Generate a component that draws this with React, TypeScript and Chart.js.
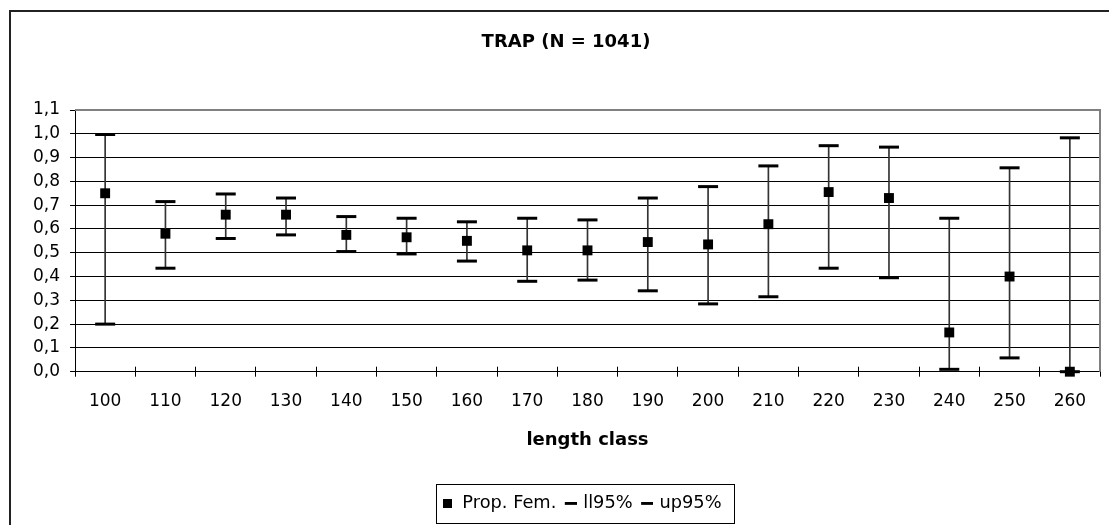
import React, { useEffect, useRef } from 'react';
import { Chart, registerables } from 'chart.js';

Chart.register(...registerables);

const categories = ['100', '110', '120', '130', '140', '150', '160', '170', '180', '190', '200', '210', '220', '230', '240', '250', '260'];
const propFem = [0.75, 0.58, 0.66, 0.66, 0.575, 0.565, 0.55, 0.51, 0.51, 0.545, 0.535, 0.62, 0.755, 0.73, 0.165, 0.4, 0.0];
const ll95 = [0.2, 0.435, 0.56, 0.575, 0.505, 0.495, 0.465, 0.38, 0.385, 0.34, 0.285, 0.315, 0.435, 0.395, 0.01, 0.058, 0.0];
const up95 = [0.997, 0.715, 0.747, 0.73, 0.652, 0.645, 0.63, 0.645, 0.638, 0.73, 0.778, 0.865, 0.95, 0.944, 0.645, 0.857, 0.983];
const yTickLabels = ['0,0', '0,1', '0,2', '0,3', '0,4', '0,5', '0,6', '0,7', '0,8', '0,9', '1,0', '1,1'];
const chartTitle = 'TRAP (N = 1041)';
const xAxisTitle = 'length class';
const seriesNames = ['Prop. Fem.', 'll95%', 'up95%'];

function makeSquare(): HTMLCanvasElement {
  const c = document.createElement('canvas');
  c.width = 9;
  c.height = 9;
  const g = c.getContext('2d')!;
  g.fillStyle = '#000';
  g.fillRect(0, 0, 9, 9);
  return c;
}

function makeDash(): HTMLCanvasElement {
  const c = document.createElement('canvas');
  c.width = 17;
  c.height = 4;
  const g = c.getContext('2d')!;
  g.fillStyle = '#000';
  g.fillRect(5, 0, 12, 3);
  return c;
}

export default function App() {
  const ref = useRef<HTMLCanvasElement>(null);

  useEffect(() => {
    document.body.style.margin = '0';
    const canvas = ref.current!;
    Chart.defaults.font.family = '"DejaVu Sans", sans-serif';
    Chart.defaults.color = '#000';
    const sq = makeSquare();
    const dash = makeDash();

    const decor: any = {
      id: 'decor',
      beforeDraw(chart: any) {
        const { ctx, width, height } = chart;
        ctx.save();
        ctx.fillStyle = '#fff';
        ctx.fillRect(0, 0, width, height);
        ctx.strokeStyle = '#222';
        ctx.lineWidth = 2;
        ctx.beginPath();
        ctx.moveTo(10, height);
        ctx.lineTo(10, 11);
        ctx.lineTo(width, 11);
        ctx.stroke();
        ctx.restore();
      },
      afterLayout(chart: any) {
        const lg = chart.legend;
        if (lg) {
          lg.left = chart.chartArea.left - 6;
          lg.right = chart.chartArea.right - 6;
          lg.width = lg.right - lg.left;
        }
        const tb = chart.titleBlock;
        if (tb) {
          tb.left = 32;
          tb.right = chart.chartArea.right;
          tb.width = tb.right - tb.left;
        }
      },
      afterDatasetsDraw(chart: any) {
        const { ctx, chartArea } = chart;
        const xs = chart.scales.x;
        ctx.save();
        const step = xs.getPixelForValue(1) - xs.getPixelForValue(0);
        ctx.strokeStyle = '#000';
        ctx.lineWidth = 1;
        ctx.beginPath();
        for (let i = 1; i <= categories.length; i++) {
          const px = xs.getPixelForValue(i) - step / 2;
          const ax = Math.round(px - 0.5) + 0.5;
          ctx.moveTo(ax, chartArea.bottom - 5);
          ctx.lineTo(ax, chartArea.bottom);
        }
        ctx.stroke();
        ctx.strokeStyle = '#808080';
        ctx.lineWidth = 2;
        ctx.beginPath();
        ctx.moveTo(chartArea.left, chartArea.top);
        ctx.lineTo(chartArea.right, chartArea.top);
        ctx.lineTo(chartArea.right, chartArea.bottom);
        ctx.stroke();
        ctx.restore();
      },
      afterDraw(chart: any) {
        const lg = chart.legend;
        if (!lg || !lg.legendHitBoxes || !lg.legendHitBoxes.length) return;
        const hb = lg.legendHitBoxes;
        const first = hb[0];
        const last = hb[hb.length - 1];
        const cy = first.top + first.height / 2;
        const l = Math.round(first.left - 5.5) + 0.5;
        const r = Math.round(last.left + last.width + 12) + 0.5;
        const t = Math.round(cy - 20) + 0.5;
        const b = Math.round(cy + 20) - 0.5;
        const { ctx } = chart;
        ctx.save();
        ctx.strokeStyle = '#000';
        ctx.lineWidth = 1;
        ctx.strokeRect(l, t, r - l, b - t);
        ctx.restore();
      },
    };

    const chart = new Chart(canvas, {
      type: 'bar',
      data: {
        labels: categories,
        datasets: [
          {
            type: 'bar',
            label: 'range',
            data: categories.map((_, i) => [ll95[i], up95[i]]) as any,
            backgroundColor: '#333',
            borderWidth: 0,
            barThickness: 1,
            order: 4,
          } as any,
          {
            type: 'line',
            label: seriesNames[1],
            data: ll95,
            showLine: false,
            pointStyle: 'line',
            pointRadius: 10,
            pointBorderColor: '#000',
            pointBorderWidth: 3,
            borderColor: '#000',
            borderWidth: 3,
            order: 3,
            clip: false,
          } as any,
          {
            type: 'line',
            label: seriesNames[2],
            data: up95,
            showLine: false,
            pointStyle: 'line',
            pointRadius: 10,
            pointBorderColor: '#000',
            pointBorderWidth: 3,
            borderColor: '#000',
            borderWidth: 3,
            order: 2,
            clip: false,
          } as any,
          {
            type: 'line',
            label: seriesNames[0],
            data: propFem,
            showLine: false,
            pointStyle: 'rect',
            pointRadius: 7,
            pointBackgroundColor: '#000',
            pointBorderColor: '#000',
            pointBorderWidth: 0,
            borderColor: '#000',
            order: 1,
            clip: false,
          } as any,
        ],
      },
      options: {
        responsive: false,
        animation: false,
        events: [],
        devicePixelRatio: 1,
        layout: { autoPadding: false, padding: { left: 0, right: 9, top: 0, bottom: 2.25 } },
        plugins: {
          tooltip: { enabled: false },
          title: {
            display: true,
            text: chartTitle,
            color: '#000',
            font: { size: 18, weight: 'bold' },
            padding: { top: 31.2, bottom: 57.2 },
          },
          legend: {
            display: true,
            position: 'bottom',
            labels: {
              usePointStyle: true,
              boxWidth: 12,
              padding: 6,
              color: '#000',
              font: { size: 17.8 },
              generateLabels: () => [
                { text: seriesNames[0], pointStyle: sq, datasetIndex: 3, hidden: false, fontColor: '#000', fillStyle: '#000', strokeStyle: '#000', lineWidth: 0 },
                { text: seriesNames[1], pointStyle: dash, datasetIndex: 1, hidden: false, fontColor: '#000', fillStyle: '#000', strokeStyle: '#000', lineWidth: 0 },
                { text: seriesNames[2], pointStyle: dash, datasetIndex: 2, hidden: false, fontColor: '#000', fillStyle: '#000', strokeStyle: '#000', lineWidth: 0 },
              ] as any,
            },
          },
        },
        scales: {
          x: {
            type: 'category',
            offset: true,
            afterFit: (s: any) => {
              s.paddingLeft = 0;
              s.paddingRight = 0;
            },
            grid: { offset: true, drawOnChartArea: false, drawTicks: true, tickLength: 5, tickColor: '#000', color: '#000' },
            border: { color: '#000', width: 1 },
            ticks: { padding: 14.4, color: '#000', font: { size: 17 }, autoSkip: false, maxRotation: 0 },
            title: {
              display: true,
              text: xAxisTitle,
              color: '#000',
              font: { size: 18, weight: 'bold' },
              padding: { top: 4, bottom: 37.45 },
            },
          },
          y: {
            min: 0,
            max: 1.1,
            afterFit: (s: any) => {
              s.width = 75;
            },
            grid: { color: '#000', lineWidth: 1, drawTicks: true, tickLength: 5, tickColor: '#000' },
            border: { color: '#000', width: 1 },
            ticks: {
              stepSize: 0.1,
              padding: 10,
              color: '#000',
              font: { size: 17 },
              callback: (v: any) => yTickLabels[Math.round(Number(v) * 10)] ?? '',
            },
          },
        },
      } as any,
      plugins: [decor],
    });

    return () => {
      chart.destroy();
    };
  }, []);

  return (
    <div style={{ position: 'absolute', left: 0, top: 0, width: 1109, height: 525 }}>
      <canvas ref={ref} width={1109} height={525} style={{ display: 'block', width: 1109, height: 525 }} />
    </div>
  );
}
